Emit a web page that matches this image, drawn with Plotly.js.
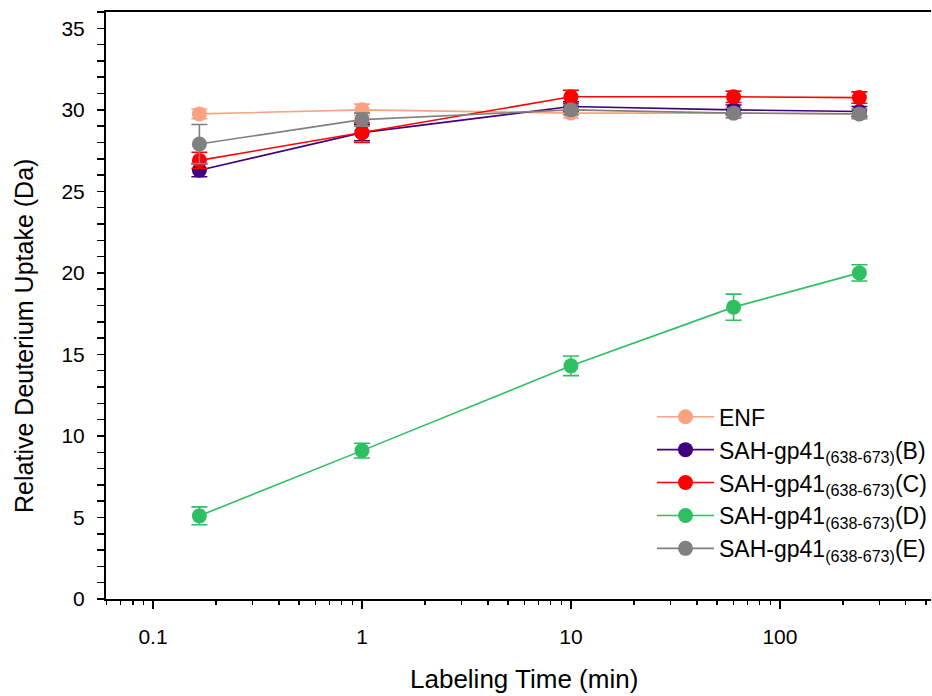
<!DOCTYPE html>
<html>
<head>
<meta charset="utf-8">
<script src="https://cdn.plot.ly/plotly-3.0.1.min.js"></script>
<style>html,body{margin:0;padding:0;background:#fff;}#chart{width:932px;height:696px;}</style>
</head>
<body>
<div id="chart"></div>
<script>
// Labeling times (min)
const times = [0.1667, 1, 10, 60, 240];

// Series names
const seriesNames = [
  "ENF",
  "SAH-gp41<sub>(638-673)</sub>(B)",
  "SAH-gp41<sub>(638-673)</sub>(C)",
  "SAH-gp41<sub>(638-673)</sub>(D)",
  "SAH-gp41<sub>(638-673)</sub>(E)"
];

// Relative deuterium uptake (Da)
const enf   = [29.75, 30.0, 29.8, 29.8, 29.75];
const serB  = [26.3, 28.6, 30.2, 30.0, 29.9];
const serC  = [26.9, 28.6, 30.8, 30.8, 30.75];
const serD  = [5.1, 9.1, 14.3, 17.9, 20.0];
const serE  = [27.9, 29.4, 30.0, 29.8, 29.75];

// Error (± Da)
const enfErr = [0.3, 0.35, 0.3, 0.25, 0.25];
const serBErr = [0.4, 0.5, 0.3, 0.3, 0.3];
const serCErr = [0.5, 0.6, 0.4, 0.35, 0.35];
const serDErr = [0.55, 0.45, 0.6, 0.8, 0.5];
const serEErr = [1.2, 0.4, 0.3, 0.3, 0.3];

const colors = ["#FBA282", "#3F007F", "#FF0000", "#2FBF62", "#808080"];
const values = [enf, serB, serC, serD, serE];
const errors = [enfErr, serBErr, serCErr, serDErr, serEErr];

const traces = values.map((v, i) => ({
  type: "scatter",
  mode: "lines+markers",
  name: seriesNames[i],
  x: times,
  y: v,
  line: {color: colors[i], width: 1.6},
  marker: {color: colors[i], size: 15, symbol: "circle"},
  error_y: {type: "data", array: errors[i], visible: true, color: colors[i], thickness: 1.6, width: 8}
}));

const FONT = "Liberation Sans, Arial, Helvetica, sans-serif";

const layout = {
  width: 932, height: 696,
  margin: {l: 106, r: 0, t: 12, b: 97, pad: 0},
  paper_bgcolor: "#fff", plot_bgcolor: "#fff",
  font: {family: FONT, color: "#000", size: 21},
  showlegend: true,
  legend: {
    x: 0.6615, y: 0.347, xanchor: "left", yanchor: "top",
    bgcolor: "rgba(0,0,0,0)", borderwidth: 0,
    font: {family: FONT, size: 23, color: "#000"},
    itemwidth: 57, tracegroupgap: 0
  },
  xaxis: {
    type: "log",
    range: [-1.225, 2.723],
    showline: true, linecolor: "#000", linewidth: 2, mirror: true,
    showgrid: false, zeroline: false,
    ticks: "outside", ticklen: 8, tickwidth: 1.5, tickcolor: "#000",
    tickvals: [0.1, 1, 10, 100], ticktext: ["0.1", "1", "10", "100"],
    tickfont: {family: FONT, size: 21},
    ticklabelstandoff: 10,
    minor: {ticks: "outside", ticklen: 4, tickwidth: 1.5, tickcolor: "#000", dtick: "D1", showgrid: false}
  },
  yaxis: {
    range: [0, 36],
    showline: true, linecolor: "#000", linewidth: 2, mirror: false,
    showgrid: false, zeroline: false,
    ticks: "outside", ticklen: 7, tickwidth: 1.5, tickcolor: "#000",
    dtick: 5, tick0: 0,
    tickfont: {family: FONT, size: 21},
    ticklabelstandoff: 8,
    minor: {ticks: "outside", ticklen: 7, tickwidth: 1.5, tickcolor: "#000", dtick: 1, showgrid: false}
  },
  annotations: [
    {text: "Labeling Time (min)", xref: "paper", yref: "paper",
     x: 0.5068, y: -0.137, xanchor: "center", yanchor: "middle", showarrow: false,
     font: {family: FONT, size: 26, color: "#000"}},
    {text: "Relative Deuterium Uptake (Da)", xref: "paper", yref: "paper",
     x: -0.0995, y: 0.448, xanchor: "center", yanchor: "middle", textangle: -90, showarrow: false,
     font: {family: FONT, size: 25, color: "#000"}}
  ]
};

Plotly.newPlot("chart", traces, layout, {displayModeBar: false, staticPlot: true});
</script>
</body>
</html>
